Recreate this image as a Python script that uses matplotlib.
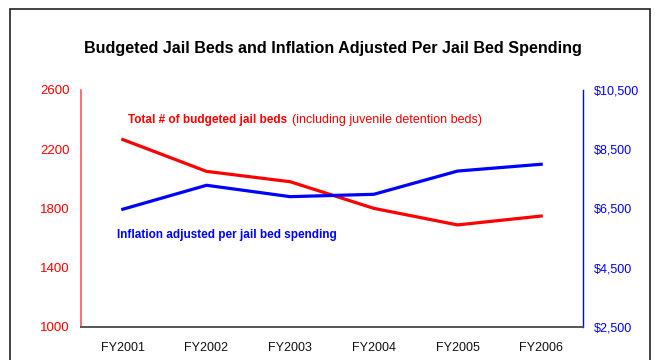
import matplotlib.pyplot as plt
from matplotlib.patches import Rectangle
from matplotlib.ticker import FuncFormatter

plt.rcParams["font.family"] = ["Liberation Sans", "DejaVu Sans"]

years = ["FY2001", "FY2002", "FY2003", "FY2004", "FY2005", "FY2006"]
jail_beds = [2265, 2050, 1980, 1800, 1688, 1748]
spending = [6470, 7280, 6895, 6975, 7760, 7990]

fig = plt.figure(figsize=(6.55, 3.6), dpi=100)

# frame around the chart
fig.patches.append(Rectangle((10 / 655, -0.1), 640 / 655, 1.1 - 9.5 / 360,
                             transform=fig.transFigure, fill=False,
                             edgecolor="#222222", linewidth=1.2))

ax = fig.add_axes([81 / 655, 33.3 / 360, 502 / 655, 236.7 / 360])
ax2 = ax.twinx()

x = range(len(years))
ax.plot(x, jail_beds, color="#ff0000", linewidth=2.3, zorder=3)
ax2.plot(x, spending, color="#0000ff", linewidth=2.3, zorder=3)

ax.set_xlim(-0.5, 5.5)
ax.set_ylim(1000, 2600)
ax.set_yticks([1000, 1400, 1800, 2200, 2600])
ax2.set_ylim(2500, 10500)
ax2.set_yticks([2500, 4500, 6500, 8500, 10500])
ax2.yaxis.set_major_formatter(FuncFormatter(lambda v, p: "${:,.0f}".format(v)))

ax.set_xticks(list(x))
ax.set_xticklabels(years)

for a in (ax, ax2):
    a.spines["top"].set_visible(False)
    a.spines["bottom"].set_color("#555555")
    a.spines["bottom"].set_linewidth(1.2)
    a.spines["left"].set_visible(False)
    a.spines["right"].set_visible(False)

ax.spines["left"].set_visible(True)
ax.spines["left"].set_color("#ff5555")
ax.spines["left"].set_linewidth(1.2)
ax2.spines["right"].set_visible(True)
ax2.spines["right"].set_color("#0000ff")
ax2.spines["right"].set_linewidth(1.0)

ax.tick_params(axis="y", length=0, pad=8, labelsize=9.5, labelcolor="#ff0000")
ax2.tick_params(axis="y", length=0, pad=8, labelsize=9, labelcolor="#0000ff")
ax.tick_params(axis="x", length=0, pad=11, labelsize=9, labelcolor="#111111")

fig.text(333 / 655, 1 - 48 / 360,
         "Budgeted Jail Beds and Inflation Adjusted Per Jail Bed Spending",
         ha="center", va="center", fontsize=11.6, fontweight="bold")

fig.text(128 / 655, 1 - 120 / 360, "Total # of budgeted jail beds",
         ha="left", va="center", fontsize=8.5, fontweight="bold", color="#ff0000")
fig.text(292 / 655, 1 - 120 / 360, "(including juvenile detention beds)",
         ha="left", va="center", fontsize=9, color="#ff0000")
fig.text(117 / 655, 1 - 235 / 360, "Inflation adjusted per jail bed spending",
         ha="left", va="center", fontsize=8.5, fontweight="bold", color="#0000ff")

fig.savefig("out.png", dpi=100)
